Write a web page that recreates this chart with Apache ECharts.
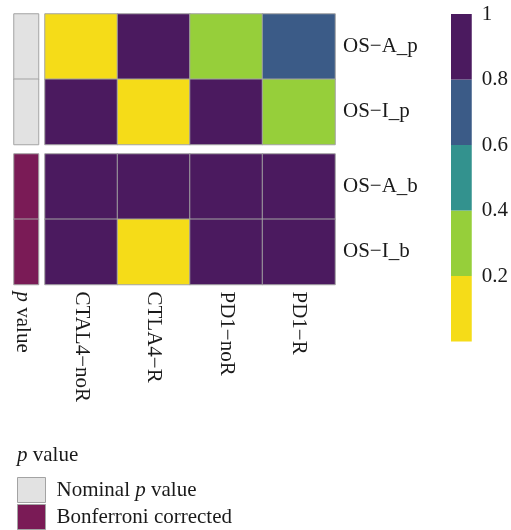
<!DOCTYPE html>
<html>
<head>
<meta charset="utf-8">
<script src="https://cdn.jsdelivr.net/npm/echarts@6/dist/echarts.min.js"></script>
<style>html,body{margin:0;padding:0;background:#fff}#c{width:511px;height:530px}</style>
</head>
<body>
<div id="c"></div>
<script>
// ---- data ----
const columns = ['CTAL4\u2212noR', 'CTLA4\u2212R', 'PD1\u2212noR', 'PD1\u2212R'];
const nominalRows = ['OS\u2212A_p', 'OS\u2212I_p'];
const bonferroniRows = ['OS\u2212A_b', 'OS\u2212I_b'];
const nominalValues = [
  [0.05, 1.00, 0.30, 0.70],
  [1.00, 0.03, 1.00, 0.35]
];
const bonferroniValues = [
  [1.00, 1.00, 1.00, 1.00],
  [1.00, 0.12, 1.00, 1.00]
];
const annotationNames = ['Nominal p value', 'Bonferroni corrected'];
const annotationLabel = ['p value'];
const legendBreaks = [0, 0.2, 0.4, 0.6, 0.8, 1];
const legendTicks = [0.2, 0.4, 0.6, 0.8, 1];
// ---- styles ----
const pieceColors = ['#f5dc18', '#96cf3a', '#33928e', '#3b5b87', '#4b1a5f'];
const annotationColors = ['#e2e2e2', '#7a1b56'];
const cellBorder = '#a3a3a3';
const FONT = 'Liberation Serif';
const FS = 21;
const TXT = '#1a1a1a';

function toCells(matrix) {
  const out = [];
  matrix.forEach((row, r) => row.forEach((v, c) => out.push([c, r, v])));
  return out;
}

const grids = [
  {left: 14, top: 14, width: 24.5, height: 130.5},
  {left: 14, top: 154, width: 24.5, height: 130.5},
  {left: 45, top: 14, width: 290, height: 130.5},
  {left: 45, top: 154, width: 290, height: 130.5},
  {left: 451, top: 14, width: 25, height: 327.5}
];

const hidden = {axisLine: {show: false}, axisTick: {show: false}, splitLine: {show: false}};
const baseLabel = {fontFamily: FONT, fontSize: FS, color: TXT};

const xAxes = [
  Object.assign({type: 'category', gridIndex: 0, data: annotationLabel, axisLabel: {show: false}}, hidden),
  Object.assign({type: 'category', gridIndex: 1, data: annotationLabel,
    axisLabel: Object.assign({}, baseLabel, {rotate: -90, margin: 7, interval: 0, padding: [8, 0, 0, 0],
      formatter: v => v.replace(/^p /, '{i|p} '),
      rich: {i: {fontFamily: FONT, fontSize: FS, fontStyle: 'italic', color: TXT}}})}, hidden),
  Object.assign({type: 'category', gridIndex: 2, data: columns, axisLabel: {show: false}}, hidden),
  Object.assign({type: 'category', gridIndex: 3, data: columns,
    axisLabel: Object.assign({}, baseLabel, {rotate: -90, margin: 7, interval: 0, padding: [4, 0, 0, 0]})}, hidden),
  Object.assign({type: 'category', gridIndex: 4, data: [''], axisLabel: {show: false}}, hidden)
];

const yAxes = [
  Object.assign({type: 'category', gridIndex: 0, data: nominalRows, inverse: true, axisLabel: {show: false}}, hidden),
  Object.assign({type: 'category', gridIndex: 1, data: bonferroniRows, inverse: true, axisLabel: {show: false}}, hidden),
  Object.assign({type: 'category', gridIndex: 2, data: nominalRows, inverse: true, position: 'right',
    axisLabel: Object.assign({}, baseLabel, {margin: 8, padding: [5, 0, 0, 0]})}, hidden),
  Object.assign({type: 'category', gridIndex: 3, data: bonferroniRows, inverse: true, position: 'right',
    axisLabel: Object.assign({}, baseLabel, {margin: 8, padding: [5, 0, 0, 0]})}, hidden),
  Object.assign({type: 'value', gridIndex: 4, min: 0, max: 1, interval: 0.2, position: 'right',
    axisLabel: Object.assign({}, baseLabel, {margin: 10, padding: [5, 0, 0, 0],
      formatter: v => legendTicks.some(t => Math.abs(t - v) < 1e-9) ? (Math.abs(v - 1) < 1e-9 ? '1' : v.toFixed(1)) : ''})}, hidden)
];

const cellStyle = {borderColor: cellBorder, borderWidth: 1};

const series = [
  {name: annotationNames[0], type: 'heatmap', xAxisIndex: 0, yAxisIndex: 0,
   data: nominalRows.map((r, i) => [0, i, 1]),
   itemStyle: Object.assign({color: annotationColors[0]}, cellStyle), emphasis: {disabled: true}},
  {name: annotationNames[1], type: 'heatmap', xAxisIndex: 1, yAxisIndex: 1,
   data: bonferroniRows.map((r, i) => [0, i, 1]),
   itemStyle: Object.assign({color: annotationColors[1]}, cellStyle), emphasis: {disabled: true}},
  {name: 'nominal', type: 'heatmap', xAxisIndex: 2, yAxisIndex: 2,
   data: toCells(nominalValues), itemStyle: cellStyle, emphasis: {disabled: true}},
  {name: 'bonferroni', type: 'heatmap', xAxisIndex: 3, yAxisIndex: 3,
   data: toCells(bonferroniValues), itemStyle: cellStyle, emphasis: {disabled: true}}
];

// discrete colour key drawn as stacked bands on a value axis
for (let i = 0; i < pieceColors.length; i++) {
  series.push({
    name: 'key' + i, type: 'bar', xAxisIndex: 4, yAxisIndex: 4, stack: 'key',
    barWidth: '100%', silent: true,
    data: [legendBreaks[i + 1] - legendBreaks[i]],
    itemStyle: {color: pieceColors[i]}
  });
}

const pieces = pieceColors.map((c, i) => ({gte: legendBreaks[i], lte: legendBreaks[i + 1], color: c}));

const option = {
  animation: false,
  backgroundColor: '#fff',
  grid: grids,
  xAxis: xAxes,
  yAxis: yAxes,
  visualMap: [{type: 'piecewise', show: false, seriesIndex: [2, 3], pieces: pieces}],
  title: {
    text: '{i|p} value', left: 12, top: 440,
    textStyle: {fontFamily: FONT, fontSize: FS, fontWeight: 'normal', color: TXT,
      rich: {i: {fontFamily: FONT, fontSize: FS, fontStyle: 'italic', color: TXT}}}
  },
  legend: {
    data: annotationNames, orient: 'vertical', left: 17, top: 477,
    itemWidth: 28, itemHeight: 25, itemGap: 1, icon: 'rect',
    selectedMode: false, padding: 0,
    itemStyle: {borderColor: cellBorder, borderWidth: 1},
    formatter: n => n.replace(' p ', ' {i|p} '),
    textStyle: {fontFamily: FONT, fontSize: FS, color: TXT, padding: [0, 0, 0, 6],
      rich: {i: {fontFamily: FONT, fontSize: FS, fontStyle: 'italic', color: TXT}}}
  },
  series: series
};

echarts.init(document.getElementById('c'), null, {renderer: 'canvas'}).setOption(option);
</script>
</body>
</html>
